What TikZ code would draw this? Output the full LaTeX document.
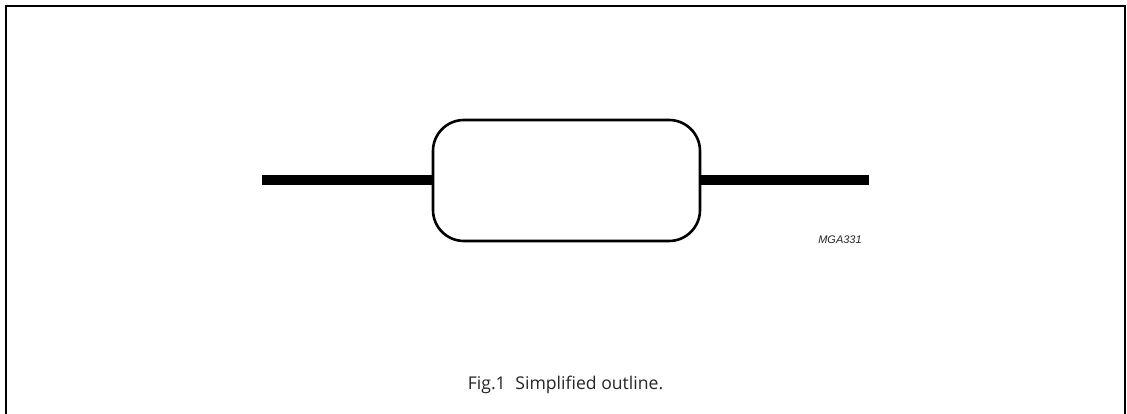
\documentclass[tikz,border=0pt]{standalone}
\usepackage{fontspec}
\setmainfont{Liberation Sans}
\newfontfamily\capfont{Open Sans}
\tikzset{
  body/.style={draw=black,line width=2.6pt,rounded corners=31pt,minimum width=267pt,minimum height=121pt,inner sep=0pt,outer sep=0pt},
  leadwire/.style={draw=black,line width=10pt,line cap=butt},
  frameline/.style={draw=black,line width=2pt,line cap=butt},
  codetext/.style={font=\fontsize{11pt}{13pt}\selectfont\itshape,text=black!85,inner sep=0pt,anchor=center},
  captext/.style={font=\capfont\fontsize{17.6pt}{20pt}\selectfont,text=black!85,inner sep=0pt,anchor=center}
}
\begin{document}
\begin{tikzpicture}[x=1pt,y=-1pt]
\useasboundingbox (0,0) rectangle (1127,414);
\fill[white] (0,0) rectangle (1127,414);
\coordinate (fbl) at (6,414);
\coordinate (ftl) at (6,6);
\coordinate (ftr) at (1125,6);
\coordinate (fbr) at (1125,414);
\draw[frameline] (fbl) -- (ftl) -- (ftr) -- (fbr);
\node[body] (pkg) at (566.5,180.5) {};
\coordinate (lend) at (262,180.5);
\coordinate (rend) at (869,180.5);
\draw[leadwire] (lend) -- (pkg.west);
\draw[leadwire] (pkg.east) -- (rend);
\node[codetext] (code) at (840,240) {MGA331};
\node[captext] (cap) at (565.5,384.5) {Fig.1\hspace{0.55em}Simplified outline.};
\end{tikzpicture}
\end{document}
